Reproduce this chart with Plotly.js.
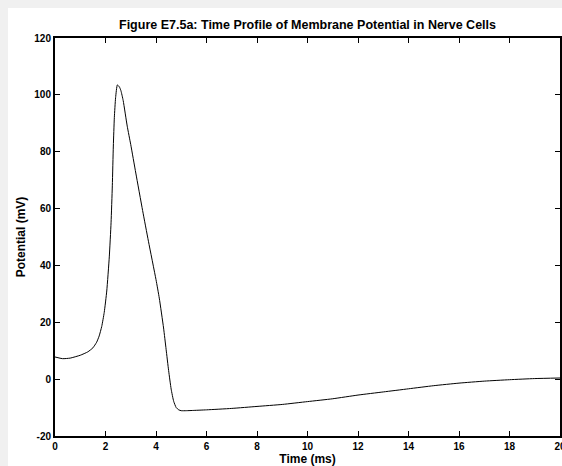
<!DOCTYPE html>
<html>
<head>
<meta charset="utf-8">
<script src="https://cdn.plot.ly/plotly-3.0.1.min.js"></script>
<style>
html,body{margin:0;padding:0;background:#f0f0f0;width:562px;height:466px;overflow:hidden;}
#chart{position:absolute;left:8px;top:8px;width:554px;height:458px;}
</style>
</head>
<body>
<div id="chart"></div>
<script>
// Time (ms)
const timeMs = [0, 0.3, 0.6, 1.0, 1.3, 1.5, 1.65, 1.75, 1.85, 1.95, 2.05, 2.15, 2.22, 2.27, 2.31, 2.35, 2.4, 2.47,
  2.55, 2.61, 2.7, 2.86, 3.0, 3.2, 3.47, 3.7, 4.0, 4.13, 4.3, 4.4, 4.5, 4.6, 4.7, 4.8, 4.9, 5.0,
  5.2, 5.5, 6, 7, 8, 9, 10, 11, 12, 13, 14, 15, 16, 17, 18, 19, 20];
// Membrane potential (mV)
const potentialMv = [7.8, 7.2, 7.4, 8.4, 9.6, 11.0, 13.0, 15.2, 18.5, 23.5, 31, 43, 55, 68, 82, 92, 99, 103.5,
  102.8, 101.5, 98, 89, 82.5, 72.5, 59.3, 48.5, 35, 28.5, 18, 10.5, 3, -3.5, -7.8, -10, -10.8, -11.1,
  -11.1, -11.0, -10.8, -10.3, -9.6, -8.9, -7.9, -6.9, -5.6, -4.5, -3.4, -2.3, -1.4, -0.7, -0.2, 0.2, 0.4];
const xTicks = [0, 2, 4, 6, 8, 10, 12, 14, 16, 18, 20];
const yTicks = [-20, 0, 20, 40, 60, 80, 100, 120];

const fontFam = '"Liberation Sans", Arial, Helvetica, sans-serif';
const tickFont = {family: fontFam, size: 10, color: '#000', weight: 'bold'};

const trace = {
  x: timeMs, y: potentialMv, type: 'scatter', mode: 'lines',
  line: {color: '#000', width: 1, shape: 'spline', smoothing: 0.5},
  hoverinfo: 'skip'
};

const axisCommon = {
  showgrid: false, zeroline: false, showline: true, linecolor: '#000', linewidth: 2,
  mirror: 'ticks', ticks: 'inside', ticklen: 5, tickwidth: 1, tickcolor: '#000',
  tickfont: tickFont, fixedrange: true, ticklabeloverflow: 'allow'
};

const layout = {
  width: 554, height: 458,
  paper_bgcolor: '#fff', plot_bgcolor: '#fff',
  margin: {l: 47, r: 2, t: 29.5, b: 30.3},
  showlegend: false,
  title: {
    text: 'Figure E7.5a: Time Profile of Membrane Potential in Nerve Cells',
    font: {family: fontFam, size: 12.5, color: '#000', weight: 'bold'},
    xref: 'paper', x: 0.5, xanchor: 'center',
    yref: 'container', y: 1 - 17/458, yanchor: 'middle'
  },
  xaxis: Object.assign({}, axisCommon, {
    range: [0, 20], tickvals: xTicks, ticktext: xTicks.map(String),
    title: {text: 'Time (ms)', font: {family: fontFam, size: 12, color: '#000', weight: 'bold'}, standoff: 4}
  }),
  yaxis: Object.assign({}, axisCommon, {
    range: [-20, 120], tickvals: yTicks, ticktext: yTicks.map(String),
    title: {text: 'Potential (mV)', font: {family: fontFam, size: 12, color: '#000', weight: 'bold'}, standoff: 6}
  })
};

Plotly.newPlot('chart', [trace], layout, {staticPlot: true, displayModeBar: false});
</script>
</body>
</html>
